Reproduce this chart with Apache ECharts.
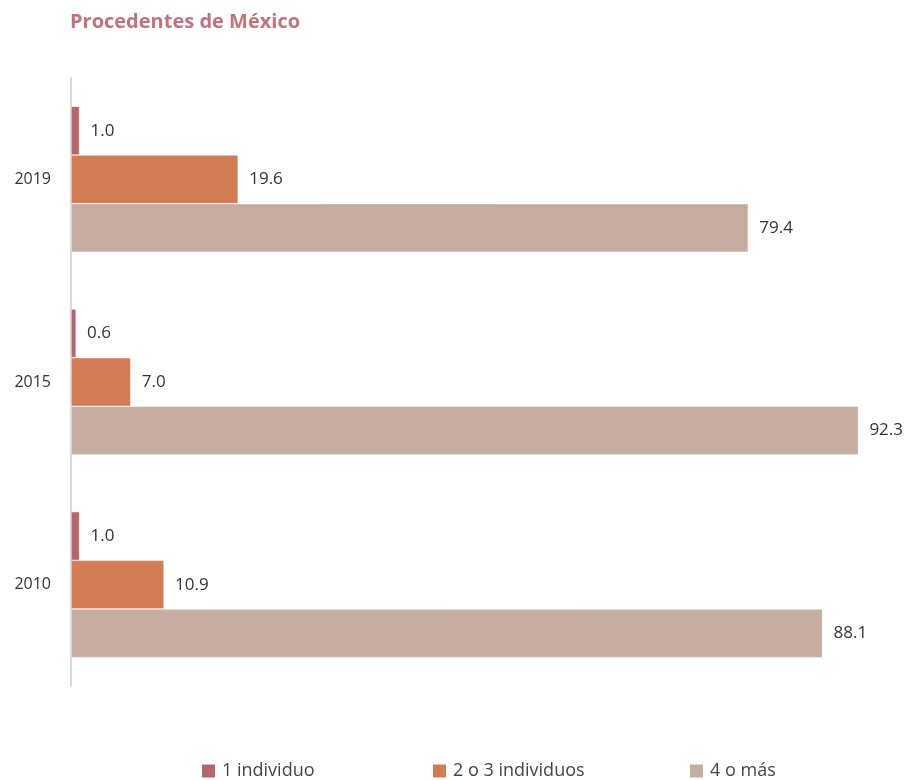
<!DOCTYPE html>
<html><head><meta charset="utf-8">
<script src="https://cdn.jsdelivr.net/npm/echarts@6/dist/echarts.min.js"></script>
<style>html,body{margin:0;padding:0;background:#fff}#c{width:907px;height:780px}</style>
</head><body><div id="c"></div>
<script>
const years = ['2019', '2015', '2010'];
const seriesNames = ['1 individuo', '2 o 3 individuos', '4 o más'];
const uno = [1.0, 0.6, 1.0];
const dosTres = [19.6, 7.0, 10.9];
const cuatroMas = [79.4, 92.3, 88.1];
const colors = ['#b5666b', '#d27c56', '#c6ada1'];
const font = '"Open Sans", sans-serif';

const values = [uno, dosTres, cuatroMas];
const chart = echarts.init(document.getElementById('c'));
const legendLefts = [197, 428, 685];
chart.setOption({
  animation: false,
  title: { text: 'Procedentes de México', left: 65, top: 7,
    textStyle: { color: '#c0737a', fontSize: 20, fontWeight: 'bold', fontFamily: font } },
  legend: seriesNames.map((n, i) => ({
    data: [n], left: legendLefts[i], top: 757, itemWidth: 13, itemHeight: 13, icon: 'rect',
    itemGap: 0, itemStyle: { borderWidth: 0 },
    textStyle: { fontSize: 18, color: '#444', fontFamily: font, padding: [3,0,0,2] }
  })),
  grid: { left: 71, top: 78, height: 608, right: 0 },
  xAxis: { type: 'value', min: 0, max: 98, show: false },
  yAxis: { type: 'category', data: years, inverse: true,
    axisLine: { lineStyle: { color: '#d9d9d9', width: 2 } },
    axisTick: { show: false },
    axisLabel: { fontSize: 16, color: '#333', fontFamily: font, margin: 20 } },
  series: seriesNames.map((n, i) => ({
    name: n, type: 'bar', data: values[i], barGap: '0%', barCategoryGap: '28%',
    itemStyle: { color: colors[i], borderColor: '#fff', borderWidth: 0.5 },
    label: { show: true, position: 'right', distance: 11, fontSize: 17, color: '#333', fontFamily: font,
      formatter: p => p.value.toFixed(1) }
  }))
});
</script></body></html>
